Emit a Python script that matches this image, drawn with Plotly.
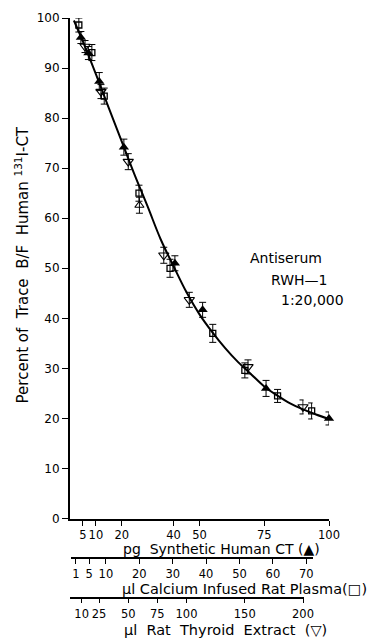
import plotly.graph_objects as go

# ---- data ----
# pg Synthetic Human CT (filled triangles)
ct_x = [4.2, 7.1, 11.3, 20.8, 40.5, 51.2, 75.7, 100.0]
ct_y = [96.1, 93.0, 87.3, 74.2, 51.0, 41.7, 26.0, 20.0]
ct_err = [1.2, 1.3, 1.8, 1.6, 1.5, 1.5, 1.6, 1.3]

# ul Calcium Infused Rat Plasma (open squares)
pl_x = [1.9, 5.8, 9.5, 19.9, 29.2, 42.0, 51.6, 61.4, 71.6]
pl_y = [98.6, 93.1, 84.4, 65.0, 50.0, 37.0, 29.6, 24.5, 21.5]
pl_err = [1.4, 1.6, 1.6, 1.6, 1.8, 1.8, 1.5, 1.3, 1.6]

# ul Rat Thyroid Extract (open inverted triangles)
th_x = [12.9, 26.6, 50.0, 80.5, 102.4, 152.8, 200.0]
th_y = [94.3, 85.3, 71.3, 52.6, 43.7, 30.3, 22.3]
th_err = [1.2, 1.4, 1.6, 1.6, 1.5, 1.4, 1.4]

# unlabelled open triangle
ot_x = [26.8]
ot_y = [62.6]
ot_err = [1.6]

# fitted curve (pg scale)
curve_x = [1.5, 5, 10, 15, 20, 25, 30, 35, 40, 45, 50, 55, 60, 65, 70, 75, 80, 85, 90, 95, 100]
curve_y = [99.5, 95.3, 88.8, 82.0, 75.3, 68.6, 62.3, 55.8, 50.4, 45.2, 40.8, 37.2, 34.0, 31.2, 28.8, 26.4, 24.6, 23.0, 21.8, 20.8, 19.9]

y_ticks = [0, 10, 20, 30, 40, 50, 60, 70, 80, 90, 100]
ct_ticks = [5, 10, 20, 40, 50, 75, 100]
pl_ticks = [1, 5, 10, 20, 30, 40, 50, 60, 70]
th_ticks = [10, 25, 50, 75, 100, 150, 200]

FONT = "DejaVu Sans"
W, H = 371, 643
FY = 0.988  # observed vertical squeeze of the photographed page
L, R, T, B = 70, 42, 18, 5
PW, PH = W - L - R, H - T - B


def px(xp):
    return min(1.0, max(0.0, (xp - L) / PW))


def py(yp):
    return (H - B - yp / FY) / PH


fig = go.Figure()
fig.add_trace(go.Scatter(x=curve_x, y=curve_y, mode="lines",
                         line=dict(color="black", width=2, shape="spline", smoothing=1),
                         xaxis="x", yaxis="y", showlegend=False, hoverinfo="skip"))

err = dict(type="data", symmetric=True, color="black", thickness=1, width=3.5)

fig.add_trace(go.Scatter(x=pl_x, y=pl_y, mode="markers", xaxis="x2", yaxis="y",
                         marker=dict(symbol="square-open", size=6, color="black", line=dict(width=1.3)),
                         error_y=dict(err, array=pl_err), cliponaxis=False, showlegend=False))
fig.add_trace(go.Scatter(x=th_x, y=th_y, mode="markers", xaxis="x3", yaxis="y",
                         marker=dict(symbol="triangle-down-open", size=9, color="black", line=dict(width=1.1)),
                         error_y=dict(err, array=th_err), cliponaxis=False, showlegend=False))
fig.add_trace(go.Scatter(x=ot_x, y=ot_y, mode="markers", xaxis="x", yaxis="y",
                         marker=dict(symbol="triangle-up-open", size=8, color="black", line=dict(width=1.1)),
                         error_y=dict(err, array=ot_err), cliponaxis=False, showlegend=False))
fig.add_trace(go.Scatter(x=ct_x, y=ct_y, mode="markers", xaxis="x", yaxis="y",
                         marker=dict(symbol="triangle-up", size=9, color="black"),
                         error_y=dict(err, array=ct_err), cliponaxis=False, showlegend=False))

tickfont = dict(family=FONT, size=12, color="black")
xtickfont = dict(family=FONT, size=11.5, color="black")
axbase = dict(showgrid=False, zeroline=False, showline=True, linecolor="black",
              ticks="outside", ticklen=5, tickcolor="black", tickwidth=1,
              fixedrange=True, tickangle=0)

# pixel calibration of the two lower scales
x2_r = [-0.3, 71.9]
x2_px = [72.5 + 3.34 * v for v in x2_r]
x3_r = [0.0, 200.5]
x3_px = [70.0 + 1.165 * v for v in x3_r]

ybot = py(518)
fig.update_layout(
    width=W, height=H,
    margin=dict(l=L, r=R, t=T, b=B),
    paper_bgcolor="white", plot_bgcolor="rgba(0,0,0,0)",
    font=dict(family=FONT, color="black"),
    xaxis=dict(axbase, domain=[0, 1], range=[0, 100], tickvals=ct_ticks, tickfont=xtickfont,
               anchor="y", linewidth=2),
    xaxis2=dict(axbase, domain=[px(x2_px[0]), px(x2_px[1])], range=x2_r, tickvals=pl_ticks,
                tickfont=xtickfont, anchor="free", position=py(557.5), linewidth=1.5),
    xaxis3=dict(axbase, domain=[px(x3_px[0]), px(x3_px[1])], range=x3_r, tickvals=th_ticks,
                tickfont=xtickfont, anchor="free", position=py(597), linewidth=1.5,
                ticklabelstandoff=1),
    yaxis=dict(axbase, domain=[ybot, 1], range=[0, 100], tickvals=y_ticks, tickfont=tickfont,
               anchor="x", linewidth=2, ticklen=6),
    showlegend=False,
)

NB = "\u00a0"
ann_font = dict(family=FONT, size=14, color="black")
annotations = [
    dict(text=f"Percent{NB}of{NB} Trace{NB} B/F{NB} Human{NB}<sup>131</sup>I-CT", x=(22 - L) / PW,
         y=py(265), textangle=-90, font=dict(ann_font, size=15)),
    dict(text=f"pg{NB} Synthetic Human CT (▲)", x=px(221), y=py(548), font=ann_font),
    dict(text="μl Calcium Infused Rat Plasma(□)", x=px(244), y=py(588), font=dict(ann_font, size=14.5)),
    dict(text=f"μl{NB} Rat{NB} Thyroid{NB} Extract{NB} (▽)", x=px(225), y=py(629), font=dict(ann_font, size=14.5)),
    dict(text="Antiserum", x=px(248), y=py(258), xanchor="left", font=ann_font),
    dict(text="RWH—1", x=px(269), y=py(280), xanchor="left", font=ann_font),
    dict(text="1:20,000", x=px(279), y=py(300), xanchor="left", font=ann_font),
]
for a in annotations:
    a.setdefault("xanchor", "center")
    a.update(xref="paper", yref="paper", yanchor="middle", showarrow=False)
    fig.add_annotation(**a)

post = ("document.documentElement.style.margin='0';document.body.style.margin='0';"
        "document.documentElement.style.overflow='hidden';document.body.style.overflow='hidden';")
fig.write_html("out.html", post_script=post, config={"displayModeBar": False})
